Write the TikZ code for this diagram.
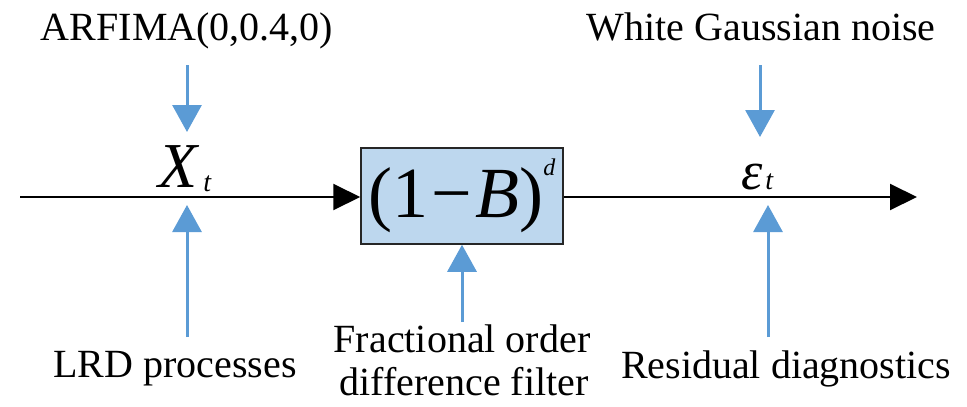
\documentclass[tikz,border=0pt]{standalone}
\usepackage{fontspec}
\setmainfont{Liberation Serif}
\usetikzlibrary{arrows.meta}
\definecolor{arrowblue}{HTML}{5B9BD5}
\definecolor{boxblue}{HTML}{BDD7EE}
\begin{document}
\begin{tikzpicture}[x=1pt,y=-1pt,
  lbl/.style={inner sep=0pt,anchor=base,font=\fontsize{40}{46}\selectfont},
  bluearrow/.style={draw=arrowblue,line width=3pt,-{Triangle[width=29pt,length=27pt]}},
  blackarrow/.style={draw=black,line width=2pt,-{Triangle[width=26pt,length=27pt]}},
  filterbox/.style={draw=black!85,line width=1.5pt,fill=boxblue,minimum width=202pt,minimum height=96pt,inner sep=0pt}]
\useasboundingbox (0,0) rectangle (967,407);
% labels
\node[lbl] (arfima) at (187,40) {ARFIMA(0,0.4,0)};
\node[lbl] (wgn) at (761,40) {White Gaussian noise};
\node[lbl] (lrd) at (175,377) {LRD processes};
\node[lbl] (frac1) at (462,352) {Fractional order};
\node[lbl] (frac2) at (464,395) {difference filter};
\node[lbl] (resid) at (786,378) {Residual diagnostics};
% signals
\node[inner sep=0pt,anchor=base west] (xt) at (158,187)
  {{\fontsize{64}{64}\selectfont\itshape X}\hspace{6pt}\raisebox{-4pt}{\fontsize{28}{28}\selectfont\itshape t}};
\node[inner sep=0pt,anchor=base west] (et) at (741,189)
  {{\fontsize{54}{54}\selectfont\itshape ε}\hspace{3pt}{\fontsize{28}{28}\selectfont\itshape t}};
% filter box
\node[filterbox] (filt) at (462,196)
  {{\fontsize{72}{72}\selectfont (1\kern3pt−\kern3pt\textit{B})}\raisebox{42pt}{\fontsize{24}{24}\selectfont\itshape d}};
% main line
\coordinate (start) at (20,197);
\coordinate (finish) at (917,197);
\draw[blackarrow] (start) -- (start -| filt.west);
\draw[blackarrow] (filt.east |- finish) -- (finish);
% blue arrows
\coordinate (a1s) at (187,65);
\coordinate (a1e) at (187,132);
\draw[bluearrow] (a1s) -- (a1e);
\coordinate (a2s) at (760,65);
\coordinate (a2e) at (760,137);
\draw[bluearrow] (a2s) -- (a2e);
\coordinate (b1s) at (187,337);
\coordinate (b1e) at (187,205);
\draw[bluearrow] (b1s) -- (b1e);
\coordinate (b2s) at (462,322);
\draw[bluearrow] (b2s) -- (filt.south);
\coordinate (b3s) at (768,337);
\coordinate (b3e) at (768,205);
\draw[bluearrow] (b3s) -- (b3e);
\end{tikzpicture}
\end{document}
